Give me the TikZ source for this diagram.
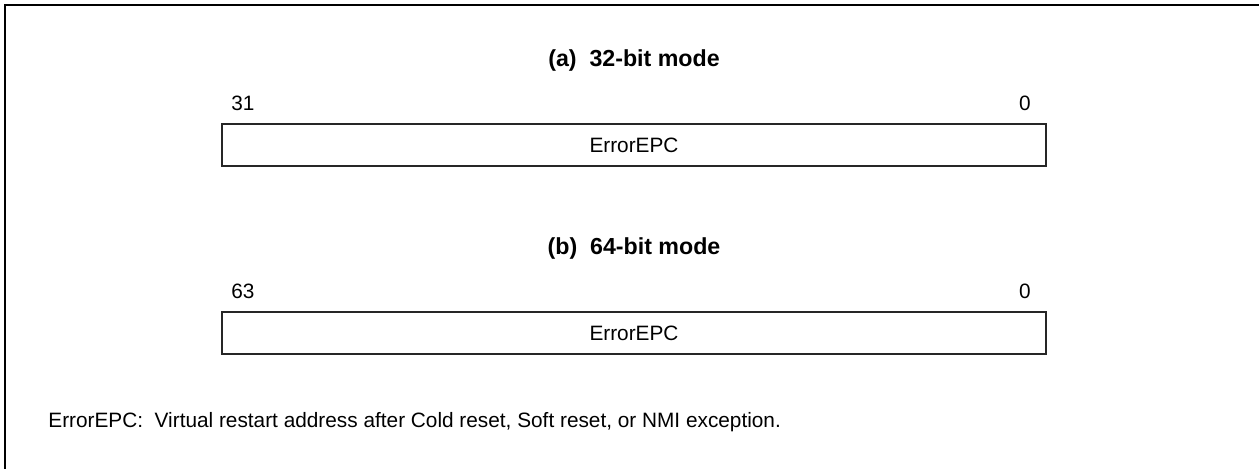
\documentclass[tikz,border=0pt]{standalone}
\usepackage{fontspec}
\setmainfont{Liberation Sans}
\usetikzlibrary{positioning}

\begin{document}
\begin{tikzpicture}[
        x=0.5pt, y=-0.5pt,
        frame/.style={line width=1pt},
        regbox/.style={draw=black!85, line width=1pt, minimum width=412pt,
          minimum height=21pt, inner sep=0pt, font=\fontsize{10.4}{12}\selectfont},
        bitnum/.style={inner sep=0pt, font=\fontsize{10.4}{12}\selectfont},
        modetitle/.style={inner sep=0pt, font=\fontsize{11.6}{14}\selectfont\bfseries},
        note/.style={inner sep=0pt, anchor=west, font=\fontsize{10.4}{12}\selectfont}
      ]

      \useasboundingbox (0,0) rectangle (1259,469);
      \clip (0,0) rectangle (1259,469);

      % outer frame, runs off the page at right and bottom
      \draw[frame] (5,5) rectangle (1280,490);

      % the two register layouts
      \foreach \p/\hi/\mode/\dy in {a/31/32/0, b/63/64/188} {
        \node[modetitle] (title\p) at (634,61+\dy) {(\p)\ \ \mode-bit mode};
        \node[regbox] (reg\p) at (634,145+\dy) {ErrorEPC};
        \node[bitnum, above right=6pt and 5pt of reg\p.north west] (hi\p) {\hi};
        \node[bitnum, above left=6pt and 8pt of reg\p.north east] (lo\p) {0};
      }

      \node[note] (note) at (48,422)
      {ErrorEPC:\ \ Virtual restart address after Cold reset, Soft reset, or NMI exception.};

    \end{tikzpicture}
\end{document}
